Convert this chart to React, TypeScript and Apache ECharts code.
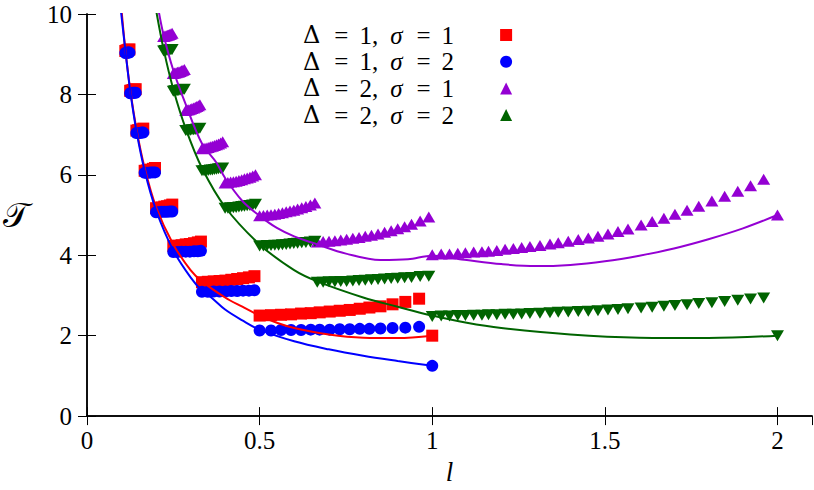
import React, { useEffect, useRef } from "react";
import * as echarts from "echarts";

// l sample positions for Δ = 1 (shared by σ = 1 and σ = 2)
const gridD1 = [
  0.111, 0.114, 0.117, 0.12, 0.123,
  0.125, 0.129, 0.133, 0.137, 0.141,
  0.143, 0.148, 0.153, 0.158, 0.163,
  0.167, 0.173, 0.179, 0.185, 0.191, 0.197,
  0.2, 0.208, 0.216, 0.224, 0.232, 0.24, 0.247,
  0.25, 0.262, 0.274, 0.286, 0.298, 0.31, 0.321, 0.33,
  0.333, 0.35, 0.367, 0.384, 0.401, 0.418, 0.435, 0.452, 0.469, 0.485,
  0.5, 0.533, 0.562, 0.591, 0.62, 0.648, 0.674, 0.703, 0.732, 0.761, 0.79, 0.818, 0.85, 0.885, 0.922, 0.962,
  1.0,
];
const tauRed = [
  9.08, 9.09, 9.1, 9.11, 9.12,
  8.09, 8.1, 8.11, 8.12, 8.13,
  7.1, 7.11, 7.12, 7.13, 7.15,
  6.1, 6.11, 6.12, 6.13, 6.15, 6.17,
  5.17, 5.18, 5.19, 5.21, 5.22, 5.24, 5.26,
  4.23, 4.24, 4.25, 4.27, 4.28, 4.3, 4.32, 4.34,
  3.33, 3.34, 3.35, 3.36, 3.37, 3.39, 3.41, 3.43, 3.45, 3.48,
  2.5, 2.51, 2.52, 2.53, 2.55, 2.56, 2.58, 2.6, 2.62, 2.64, 2.67, 2.7, 2.73, 2.78, 2.84, 2.92,
  2.0,
];
const tauBlue = [
  9.03, 9.03, 9.04, 9.04, 9.04,
  8.03, 8.03, 8.04, 8.04, 8.04,
  7.04, 7.04, 7.04, 7.05, 7.05,
  6.05, 6.05, 6.05, 6.06, 6.06, 6.06,
  5.07, 5.07, 5.08, 5.08, 5.08, 5.09, 5.09,
  4.08, 4.08, 4.09, 4.09, 4.09, 4.1, 4.1, 4.11,
  3.09, 3.09, 3.1, 3.1, 3.1, 3.11, 3.11, 3.12, 3.12, 3.13,
  2.13, 2.13, 2.14, 2.14, 2.14, 2.15, 2.15, 2.15, 2.16, 2.16, 2.17, 2.17, 2.18, 2.19, 2.2, 2.22,
  1.25,
];

// l sample positions for Δ = 2 (shared by σ = 1 and σ = 2)
const gridD2 = [
  0.222, 0.2255, 0.229, 0.2325, 0.236, 0.2395, 0.243, 0.2465,
  0.25, 0.254, 0.258, 0.262, 0.266, 0.27, 0.274, 0.278, 0.282,
  0.286, 0.2905, 0.295, 0.2995, 0.304, 0.309, 0.3135, 0.318, 0.3225, 0.327,
  0.333, 0.339, 0.345, 0.351, 0.357, 0.363, 0.369, 0.375, 0.381, 0.387, 0.393,
  0.4, 0.408, 0.416, 0.424, 0.432, 0.44, 0.448, 0.456, 0.464, 0.472, 0.48, 0.488,
  0.5, 0.511, 0.522, 0.533, 0.544, 0.555, 0.566, 0.577, 0.588, 0.599, 0.61, 0.622, 0.634, 0.647, 0.66,
  0.667, 0.684, 0.701, 0.718, 0.735, 0.752, 0.77, 0.788, 0.806, 0.824, 0.843, 0.862, 0.881, 0.9, 0.92, 0.94, 0.965, 0.99,
  1.0, 1.026, 1.05, 1.074, 1.096, 1.12, 1.144, 1.163, 1.187, 1.211, 1.235, 1.259, 1.283, 1.312, 1.341, 1.365, 1.394,
  1.423, 1.452, 1.48, 1.509, 1.538, 1.567, 1.605, 1.637, 1.671, 1.703, 1.738, 1.772, 1.81, 1.847, 1.885, 1.922, 1.96,
  2.0,
];
const tauPurple = [
  9.44, 9.45, 9.46, 9.47, 9.48, 9.49, 9.5, 9.52,
  8.52, 8.53, 8.54, 8.55, 8.56, 8.57, 8.59, 8.6, 8.62,
  7.6, 7.61, 7.62, 7.63, 7.65, 7.66, 7.68, 7.7, 7.72, 7.74,
  6.65, 6.66, 6.67, 6.68, 6.7, 6.71, 6.73, 6.75, 6.77, 6.79, 6.82,
  5.8, 5.81, 5.82, 5.83, 5.84, 5.86, 5.88, 5.9, 5.92, 5.94, 5.97, 6.0,
  4.98, 4.99, 5.0, 5.01, 5.02, 5.04, 5.06, 5.08, 5.1, 5.12, 5.15, 5.18, 5.21, 5.25, 5.3,
  4.33, 4.34, 4.35, 4.36, 4.38, 4.4, 4.42, 4.44, 4.47, 4.5, 4.53, 4.57, 4.61, 4.66, 4.71, 4.77, 4.85, 4.95,
  4.01, 4.03, 4.03, 4.05, 4.06, 4.08, 4.09, 4.1, 4.12, 4.15, 4.17, 4.19, 4.22, 4.24, 4.28, 4.31, 4.35,
  4.39, 4.43, 4.47, 4.53, 4.59, 4.65, 4.75, 4.84, 4.92, 5.02, 5.12, 5.22, 5.35, 5.47, 5.59, 5.73, 5.89,
  5.0,
];
const tauGreen = [
  9.08, 9.09, 9.09, 9.1, 9.1, 9.11, 9.11, 9.12,
  8.08, 8.09, 8.09, 8.1, 8.1, 8.11, 8.11, 8.12, 8.13,
  7.1, 7.1, 7.11, 7.11, 7.12, 7.12, 7.13, 7.14, 7.15, 7.16,
  6.1, 6.1, 6.11, 6.11, 6.12, 6.12, 6.13, 6.14, 6.15, 6.16, 6.17,
  5.17, 5.17, 5.18, 5.18, 5.19, 5.2, 5.21, 5.22, 5.23, 5.24, 5.25, 5.27,
  4.23, 4.23, 4.24, 4.24, 4.25, 4.25, 4.26, 4.27, 4.28, 4.29, 4.3, 4.31, 4.32, 4.33, 4.35,
  3.33, 3.33, 3.34, 3.34, 3.35, 3.35, 3.36, 3.37, 3.38, 3.39, 3.4, 3.41, 3.42, 3.43, 3.44, 3.45, 3.47, 3.48,
  2.48, 2.49, 2.49, 2.5, 2.5, 2.51, 2.51, 2.52, 2.52, 2.53, 2.53, 2.54, 2.55, 2.56, 2.57, 2.58, 2.59,
  2.6, 2.61, 2.62, 2.64, 2.65, 2.67, 2.69, 2.71, 2.73, 2.75, 2.77, 2.8, 2.82, 2.85, 2.88, 2.91, 2.94,
  2.0,
];

// theory curves
const curveRedL = [0.1, 0.111, 0.125, 0.143, 0.167, 0.2, 0.25, 0.3, 0.333, 0.4, 0.45, 0.5, 0.55, 0.6, 0.7, 0.8, 0.9, 1.0];
const curveRedT = [10.1, 9.12, 8.13, 7.15, 6.17, 5.2, 4.27, 3.63, 3.35, 2.95, 2.72, 2.5, 2.32, 2.19, 2.03, 1.95, 1.94, 2.0];
const curveBlueL = [0.098, 0.111, 0.125, 0.143, 0.167, 0.2, 0.25, 0.3, 0.333, 0.36, 0.4, 0.45, 0.5, 0.6, 0.7, 0.8, 0.9, 1.0];
const curveBlueT = [10.1, 9.1, 8.1, 7.1, 6.1, 5.12, 4.12, 3.45, 3.12, 2.95, 2.65, 2.38, 2.15, 1.86, 1.66, 1.5, 1.37, 1.25];
const curvePurpleL = [0.207, 0.222, 0.25, 0.286, 0.333, 0.375, 0.4, 0.45, 0.5, 0.55, 0.6, 0.667, 0.75, 0.85, 0.93, 1.0, 1.1, 1.2, 1.3, 1.4, 1.5, 1.6, 1.7, 1.8, 1.9, 2.0];
const curvePurpleT = [10.1, 9.47, 8.6, 7.75, 6.78, 6.3, 5.92, 5.35, 4.98, 4.68, 4.47, 4.27, 4.04, 3.88, 3.9, 3.99, 3.88, 3.78, 3.73, 3.76, 3.85, 3.99, 4.17, 4.4, 4.67, 5.0];
const curveGreenL = [0.2, 0.222, 0.25, 0.286, 0.333, 0.4, 0.5, 0.6, 0.667, 0.8, 0.9, 1.0, 1.1, 1.2, 1.4, 1.6, 1.8, 2.0];
const curveGreenT = [10.1, 9.12, 8.13, 7.15, 6.17, 5.2, 4.27, 3.63, 3.35, 2.95, 2.72, 2.5, 2.32, 2.19, 2.03, 1.95, 1.94, 2.0];

const seriesNames = ["Δ = 1, σ = 1", "Δ = 1, σ = 2", "Δ = 2, σ = 1", "Δ = 2, σ = 2"];
const colors = ["#ff0000", "#0000ff", "#9400d3", "#006400"];

const zip = (a: number[], b: number[]) => a.map((v, i) => [v, b[i]]);

const FONT = "Liberation Serif";

export default function App() {
  const ref = useRef<HTMLDivElement>(null);
  useEffect(() => {
    const chart = echarts.init(ref.current!, null, { renderer: "svg" });
    const axisLine = { show: true, lineStyle: { color: "#000", width: 1.5 } };
    const axisTick = { show: true, inside: true, length: 9, lineStyle: { color: "#000", width: 1 } };
    const scatterDefs = [
      { x: gridD1, y: tauRed, symbol: "rect", size: 12, rotate: 0 },
      { x: gridD1, y: tauBlue, symbol: "circle", size: 12, rotate: 0 },
      { x: gridD2, y: tauPurple, symbol: "triangle", size: [13, 11], rotate: 0 },
      { x: gridD2, y: tauGreen, symbol: "triangle", size: [13, 11], rotate: 180 },
    ];
    const curves = [
      [curveRedL, curveRedT],
      [curveBlueL, curveBlueT],
      [curvePurpleL, curvePurpleT],
      [curveGreenL, curveGreenT],
    ];
    const series: any[] = [];
    scatterDefs.forEach((d, i) => {
      series.push({
        type: "scatter",
        name: seriesNames[i],
        data: zip(d.x, d.y),
        symbol: d.symbol,
        symbolSize: d.size,
        symbolRotate: d.rotate,
        itemStyle: { color: colors[i], opacity: 1 },
        z: 2,
        silent: true,
      });
    });
    curves.forEach((c, i) => {
      series.push({
        type: "line",
        name: "curve" + i,
        data: zip(c[0], c[1]),
        showSymbol: false,
        symbol: "none",
        smooth: 0.35,
        lineStyle: { color: colors[i], width: 2 },
        z: 3,
        silent: true,
      });
    });

    const txt = { color: "#000", fontFamily: FONT, fontSize: 25, lineHeight: 26 };
    const option: any = {
      animation: false,
      backgroundColor: "#fff",
      textStyle: { fontFamily: FONT, color: "#000" },
      grid: { left: 83, right: 2, top: 14, bottom: 72 },
      xAxis: [
        {
          type: "value", min: 0, max: 2.1, interval: 0.5, position: "bottom",
          axisLine, axisTick, splitLine: { show: false },
          axisLabel: { color: "#000", fontFamily: FONT, fontSize: 25, margin: 12, showMaxLabel: false },
          name: "l", nameLocation: "middle", nameGap: 33,
          nameTextStyle: { color: "#000", fontFamily: FONT, fontStyle: "italic", fontSize: 27 },
        },
        {
          type: "value", min: 0, max: 2.1, interval: 0.5, position: "top",
          axisLine, axisTick, splitLine: { show: false }, axisLabel: { show: false },
        },
      ],
      yAxis: [
        {
          type: "value", min: 0, max: 10, interval: 2, position: "left",
          axisLine, axisTick, splitLine: { show: false },
          axisLabel: { color: "#000", fontFamily: FONT, fontSize: 25, margin: 15 },
          name: "𝒯", nameLocation: "middle", nameRotate: 0, nameGap: 58,
          nameTextStyle: { color: "#000", fontFamily: FONT, fontSize: 34 },
        },
        {
          type: "value", min: 0, max: 10, interval: 2, position: "right",
          axisLine, axisTick, splitLine: { show: false }, axisLabel: { show: false },
        },
      ],
      legend: {
        data: seriesNames,
        orient: "vertical",
        left: 298,
        top: 17,
        align: "right",
        itemWidth: 12,
        itemHeight: 12,
        itemGap: 0.7,
        selectedMode: false,
        textStyle: {
          ...txt,
          rich: {
            d: { ...txt, fontFamily: "DejaVu Serif", fontSize: 24 },
            m: { ...txt },
            e: { ...txt, padding: [0, 11, 0, 14] },
            s: { ...txt, fontStyle: "italic", padding: [0, 0, 0, 12] },
            z: { ...txt, padding: [0, 41, 0, 0] },
          },
        },
        formatter: (name: string) => {
          const m = name.match(/Δ = (\d), σ = (\d)/);
          const a = m ? m[1] : "";
          const b = m ? m[2] : "";
          return `{d|Δ}{e|=}{m|${a},}{s|σ}{e|=}{z|${b}}`;
        },
      },
      series,
    };
    chart.setOption(option);
    return () => chart.dispose();
  }, []);
  return (
    <div
      ref={ref}
      style={{ position: "fixed", left: 0, top: 0, width: 814, height: 490, background: "#fff" }}
    />
  );
}
